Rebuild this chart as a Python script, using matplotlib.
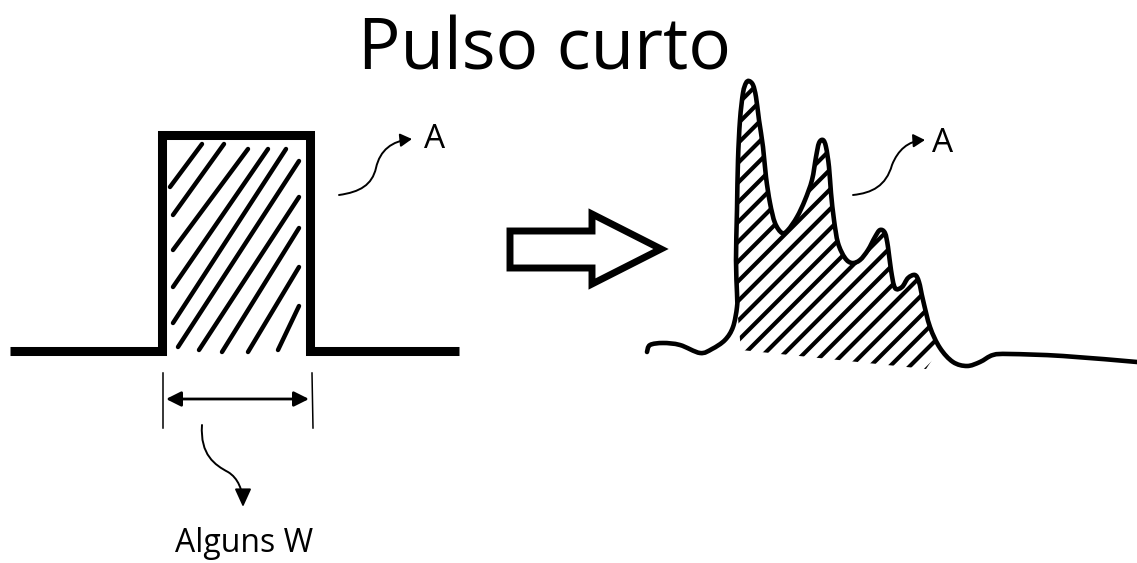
import numpy as np
import matplotlib.pyplot as plt
from matplotlib.path import Path
from matplotlib.patches import FancyArrowPatch, Polygon, PathPatch

plt.rcParams['font.family'] = ['Open Sans', 'DejaVu Sans']

# canvas is in pixel units of the reference (x right, y down)
W, H = 1137, 563

# square pulse outline
pulse_x = [10, 162, 162, 310, 310, 459]
pulse_y = [351, 351, 135, 135, 351, 351]

# hand-drawn hatch strokes inside the pulse (x0, y0, x1, y1)
pulse_hatch = [
    (170, 187, 202, 144), (173, 215, 224, 144), (173, 250, 248, 149),
    (173, 287, 268, 149), (173, 323, 286, 149), (178, 347, 299, 161),
    (199, 350, 299, 197), (222, 352, 299, 228), (248, 352, 299, 267),
    (278, 350, 299, 306),
]

# short-pulse response curve
curve_x = [647, 650, 663, 680, 700, 712, 725, 733, 737, 737, 736, 737, 738, 740,
           743, 746, 749, 753, 756, 759, 763, 766, 770, 775, 782, 788, 797, 805,
           812, 816, 819, 823, 826, 829, 831, 834, 838, 845, 852, 860, 868, 875,
           880, 885, 888, 891, 895, 902, 908, 915, 919, 923, 930, 940, 953, 967,
           980, 993, 1010, 1063, 1137]
curve_y = [352, 345, 343, 345, 353, 349, 340, 327, 307, 293, 260, 210, 160, 120,
           93, 83, 81, 85, 97, 120, 147, 177, 203, 223, 233, 230, 217, 200,
           180, 157, 143, 140, 147, 167, 193, 220, 243, 258, 263, 260, 250, 237,
           230, 233, 247, 270, 288, 287, 278, 275, 282, 300, 327, 348, 362, 366,
           362, 355, 354, 356, 362]

# lower edge of the hatched area under the curve
hatch_floor_x = [926, 741]
hatch_floor_y = [369, 350]


def smooth(xs, ys):
    # Catmull-Rom through the points, drawn as cubic Bezier segments
    p = np.column_stack([xs, ys]).astype(float)
    n = len(p)
    verts, codes = [p[0]], [Path.MOVETO]
    for i in range(n - 1):
        p0, p1, p2, p3 = p[max(i - 1, 0)], p[i], p[i + 1], p[min(i + 2, n - 1)]
        verts += [p1 + (p2 - p0) / 6, p2 - (p3 - p1) / 6, p2]
        codes += [Path.CURVE4] * 3
    return verts, codes


fig = plt.figure(figsize=(W / 100, H / 100), dpi=100)
ax = fig.add_axes([0, 0, 1, 1])
ax.set_xlim(0, W)
ax.set_ylim(H, 0)
ax.axis('off')

# title
ax.text(544, 70, 'Pulso curto', ha='center', va='baseline', fontsize=51)

# ---- left: square pulse ----
ax.plot(pulse_x, pulse_y, color='black', lw=6.5, solid_joinstyle='miter',
        solid_capstyle='butt')
for x0, y0, x1, y1 in pulse_hatch:
    ax.plot([x0, x1], [y0, y1], color='black', lw=3.2, solid_capstyle='round')

# label arrow "A"
wiggle = Path([(339, 195), (360, 192), (372, 185), (376, 168),
               (380, 150), (392, 141), (412, 139)],
              [Path.MOVETO, Path.CURVE4, Path.CURVE4, Path.CURVE4,
               Path.CURVE4, Path.CURVE4, Path.CURVE4])
ax.add_patch(FancyArrowPatch(path=wiggle, arrowstyle='-|>,head_length=7,head_width=4',
                             color='black', lw=1.4))
ax.text(435, 148, 'A', ha='center', va='baseline', fontsize=24)

# width marker
ax.plot([163, 163], [373, 428], color='black', lw=1.1)
ax.plot([312, 313], [373, 428], color='black', lw=1.1)
ax.annotate('', xy=(309, 399), xytext=(166, 399),
            arrowprops=dict(arrowstyle='<|-|>,head_length=0.9,head_width=0.45',
                            color='black', lw=2, shrinkA=0, shrinkB=0))
down = Path([(202, 425), (200, 455), (215, 465), (228, 472),
             (238, 478), (243, 490), (243, 507)],
            [Path.MOVETO, Path.CURVE4, Path.CURVE4, Path.CURVE4,
             Path.CURVE4, Path.CURVE4, Path.CURVE4])
ax.add_patch(FancyArrowPatch(path=down, arrowstyle='-|>,head_length=11,head_width=5',
                             color='black', lw=1.4))
ax.text(244, 552, 'Alguns W', ha='center', va='baseline', fontsize=23)

# ---- middle: hollow arrow ----
big_arrow = [(510, 231), (592, 231), (592, 214), (661, 249),
             (592, 284), (592, 268), (510, 268)]
ax.add_patch(Polygon(big_arrow, closed=True, facecolor='white', edgecolor='black',
                     lw=5, joinstyle='miter'))

# ---- right: response curve ----
rv, rc = smooth(curve_x[8:54], curve_y[8:54])
for fx, fy in zip(hatch_floor_x, hatch_floor_y):
    rv.append((fx, fy))
    rc.append(Path.LINETO)
rv.append(rv[0])
rc.append(Path.CLOSEPOLY)
region = PathPatch(Path(rv, rc), facecolor='none', edgecolor='none')
ax.add_patch(region)

spacing = 14  # perpendicular-ish spacing of the hatch strokes
for c in np.arange(822, 1310, spacing * 1.41):
    ln, = ax.plot([c - 420, c - 40], [420, 40], color='black', lw=3,
                  solid_capstyle='round')
    ln.set_clip_path(region)

cv, cc = smooth(curve_x, curve_y)
curve = Path(cv, cc)
ax.add_patch(PathPatch(curve, fill=False, edgecolor='white', lw=9,
                       joinstyle='round', capstyle='round'))
ax.add_patch(PathPatch(curve, fill=False, edgecolor='black', lw=3.3,
                       joinstyle='round', capstyle='round'))

wiggle2 = Path([(853, 195), (872, 193), (886, 186), (892, 165),
                (898, 150), (908, 141), (925, 140)],
               [Path.MOVETO, Path.CURVE4, Path.CURVE4, Path.CURVE4,
                Path.CURVE4, Path.CURVE4, Path.CURVE4])
ax.add_patch(FancyArrowPatch(path=wiggle2, arrowstyle='-|>,head_length=7,head_width=4',
                             color='black', lw=1.4))
ax.text(943, 152, 'A', ha='center', va='baseline', fontsize=24)

fig.savefig('out.png', dpi=100)
